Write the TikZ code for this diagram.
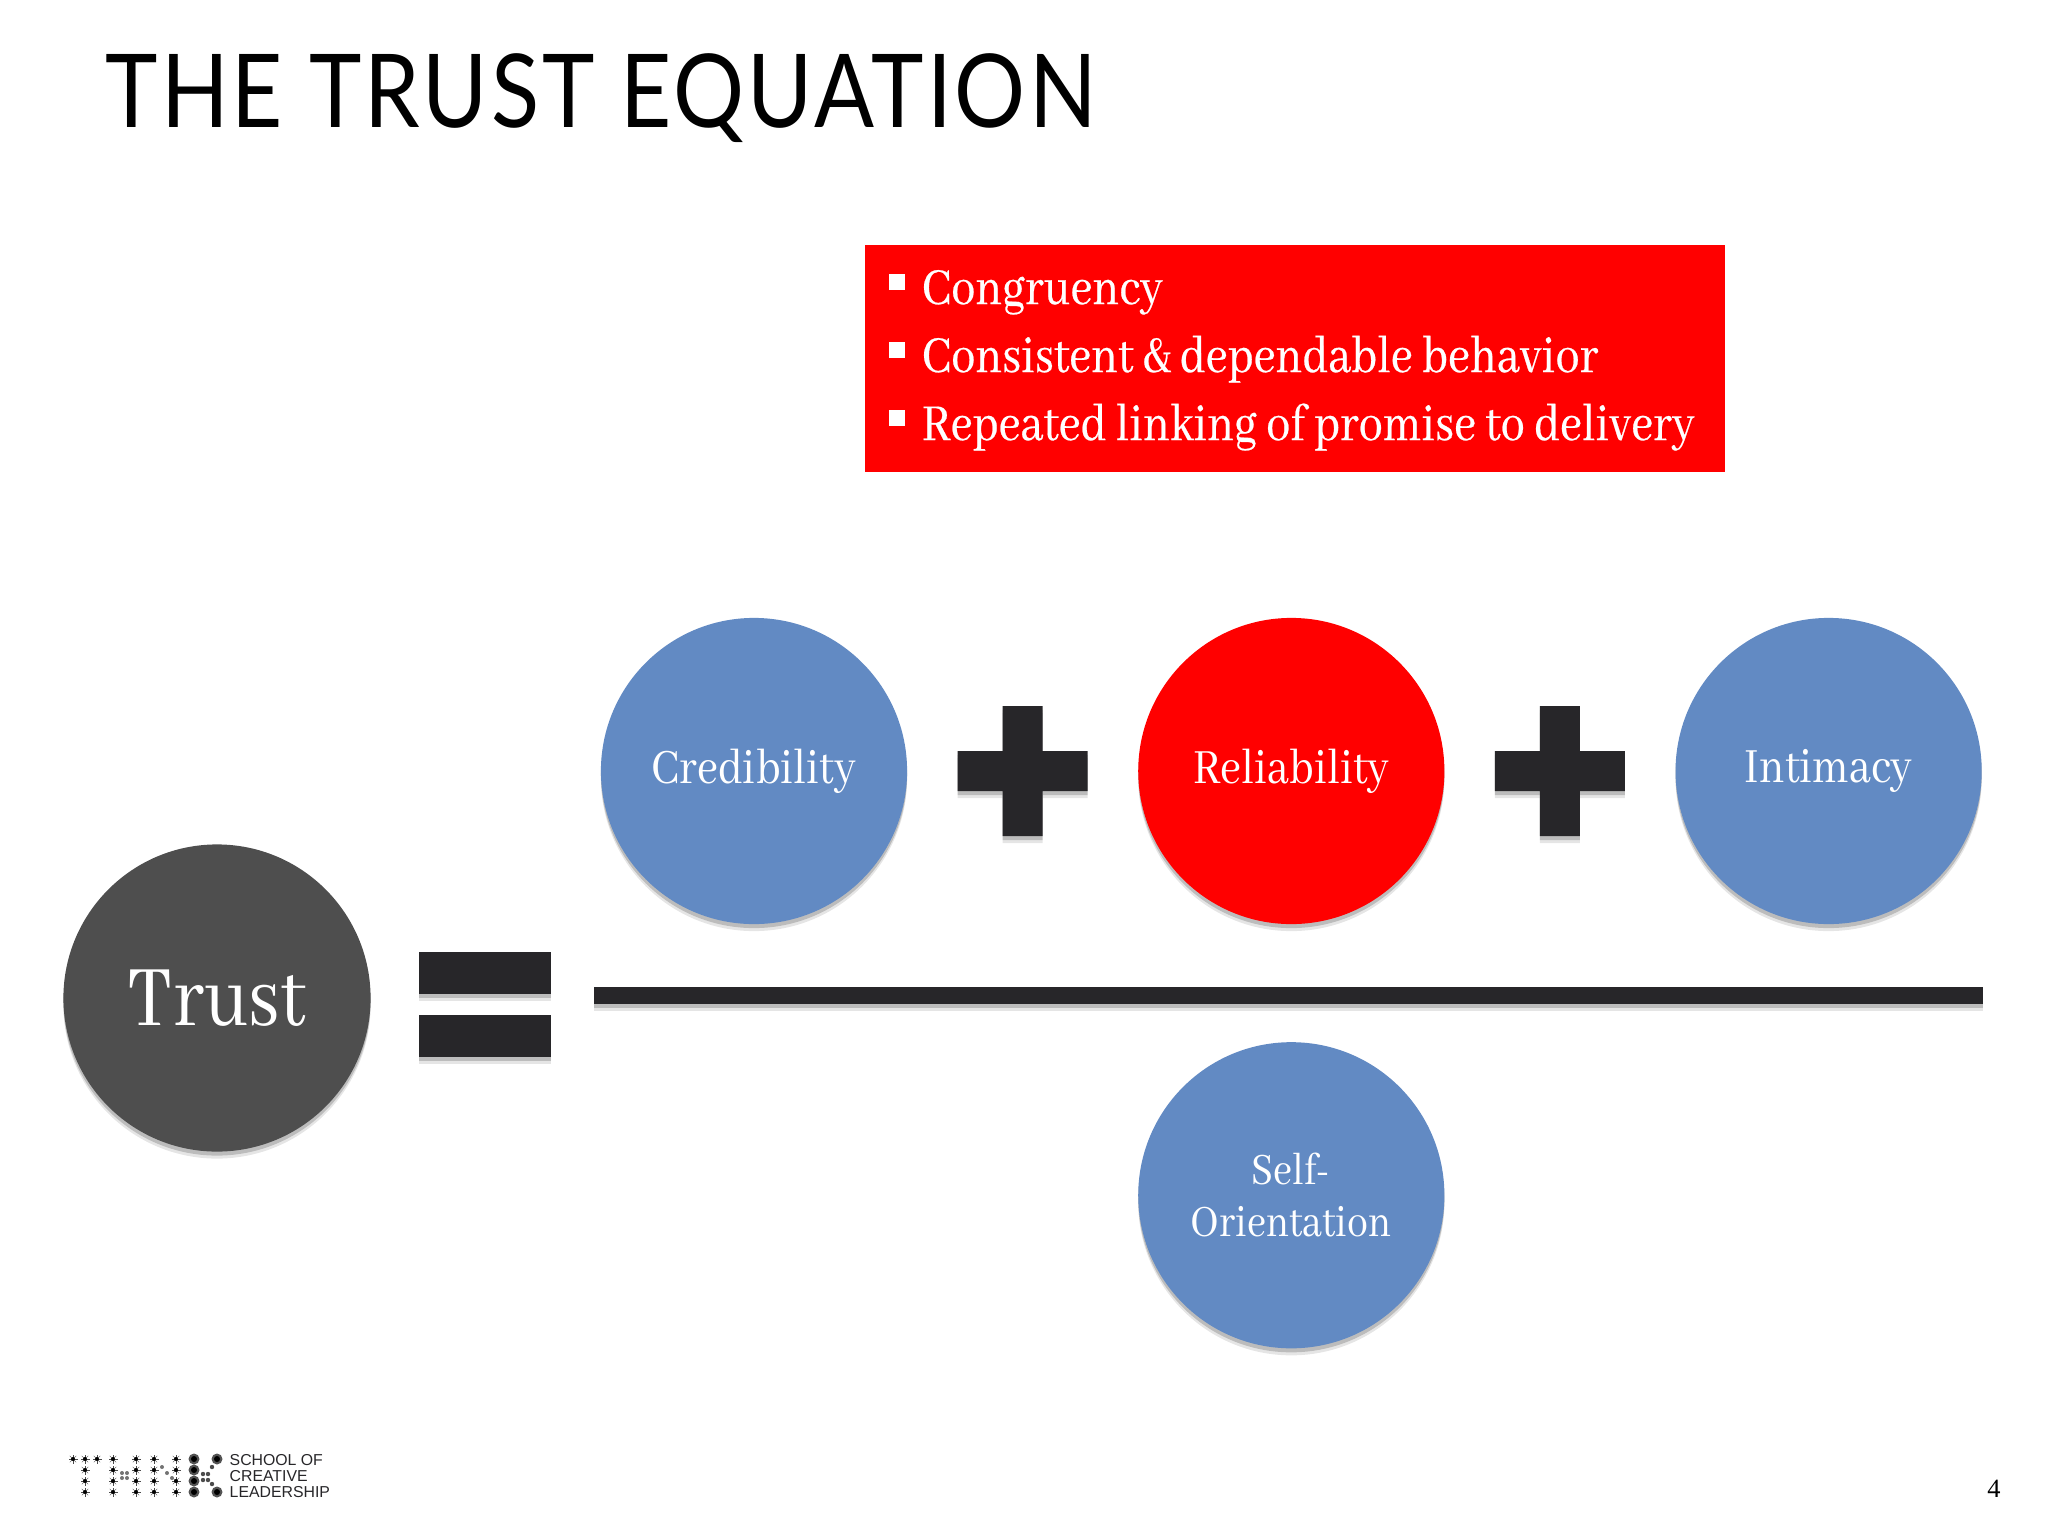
\documentclass[tikz,border=0pt]{standalone}
\usepackage{fontspec}
\setmainfont[FakeStretch=.85]{Abhaya Libre}
\newfontfamily\notefont[FakeStretch=.85,FakeBold=.4]{Abhaya Libre}
\newfontfamily\titlefont[LetterSpace=3,FakeStretch=.87]{Lato}
\newfontfamily\logofont{Liberation Sans}
\newfontfamily\pagefont{Liberation Serif}
\usepackage{tikz}
\usetikzlibrary{positioning,shadows,calc}
\definecolor{slate}{HTML}{628AC3}
\definecolor{ink}{HTML}{272629}
\definecolor{trustgray}{HTML}{4E4E4E}
\tikzset{
	softshadow/.style={
		drop shadow={shadow xshift=0cm,shadow yshift=-0.07cm,opacity=.1,fill=black},
		drop shadow={shadow xshift=0cm,shadow yshift=-0.04cm,opacity=.18,fill=black}},
	factor/.style={circle,minimum size=3.06cm,inner sep=0pt,align=center,text=white,font=\fontsize{15.4}{14.8}\selectfont,softshadow},
	bullet line/.style={anchor=base west,inner sep=0pt,text=white,font=\notefont\fontsize{16.2}{18}\selectfont},
	bar/.style={fill=ink,softshadow},
	plus sign/.pic={
		\path[bar] (-20,-65) -- (20,-65) -- (20,-20) -- (65,-20) -- (65,20) -- (20,20)
			-- (20,65) -- (-20,65) -- (-20,20) -- (-65,20) -- (-65,-20) -- (-20,-20) -- cycle;
	},
	tick mark/.pic={
		\foreach \a in {0,45,...,315}
			\draw[line width=.1pt,black!70] (0,0) -- (\a:4.5);
		\fill[black] (0,0) circle (2);
	},
	ring mark/.pic={
		\fill[black!35!gray] (0,0) circle (5.5);
		\fill[black] (0,0) circle (3);
	}
}
\begin{document}
\begin{tikzpicture}[x=0.01cm,y=-0.01cm,node distance=5.37cm,on grid]
	\useasboundingbox (0,0) rectangle (2048,1536);
	\node[anchor=base west,inner sep=0pt,font=\titlefont\fontsize{29}{32}\selectfont] (title) at (105,127) {THE TRUST EQUATION};
	% red box and its three lines
	\node[fill=red,minimum width=8.6cm,minimum height=2.27cm,anchor=north west,inner sep=0pt] (notes) at (864,244) {};
	\node[bullet line] (line_1) at (921,304) {Congruency};
	\node[bullet line] (line_2) at (921,372) {Consistent \&\ dependable behavior};
	\node[bullet line] (line_3) at (921,440) {Repeated linking of promise to delivery};
	\foreach \n in {1,2,3}
		\fill[white] ($(line_\n.base west)+(-32,-30)$) rectangle +(16,16);
	% the equation
	\node[factor,fill=slate] (credibility) at (754,771) {Credibility};
	\node[factor,fill=red] (reliability) [right=of credibility] {Reliability};
	\node[factor,fill=slate] (intimacy) [right=of reliability] {Intimacy};
	\node[factor,fill=slate,font=\fontsize{14}{14.8}\selectfont] (self) [below=4.24cm of reliability] {Self-\\Orientation};
	\node[factor,fill=trustgray,minimum size=3.07cm,font=\fontsize{27}{29}\selectfont] (trust) at (217,998) {Trust};
	\pic at ($(credibility)!.5!(reliability)$) {plus sign};
	\pic at ($(reliability)!.5!(intimacy)$) {plus sign};
	\path[bar] (419,952) rectangle (551,994);
	\path[bar] (419,1015) rectangle (551,1057);
	\path[bar] (594,987) rectangle (1983,1004);
	% logo
	\foreach \x in {73,97}
		\pic at (\x,1459) {tick mark};
	\foreach \x in {85,113,136,154,176}
		\foreach \y in {1459,1470,1481,1492}
			\pic at (\x,\y) {tick mark};
	\foreach \y in {1459,1470,1481,1492}
		\pic at (194,\y) {ring mark};
	\foreach \y in {1459,1492}
		\pic at (217,\y) {ring mark};
	\foreach \x/\y in {122/1473,127/1473,122/1478,127/1478,162/1467,167/1473,172/1478}
		\fill[black!55] (\x,\y) circle (2);
	\foreach \x/\y in {203/1474,208/1474,203/1480,208/1480,212/1467,212/1484}
		\fill[black!70] (\x,\y) circle (2.2);
	\node[anchor=north west,inner sep=0pt,align=left,text=ink,font=\logofont\fontsize{4.5}{4.5}\selectfont] (logo) at (229,1454) {SCHOOL OF\\CREATIVE\\LEADERSHIP};
	\node[anchor=base,inner sep=0pt,font=\pagefont\fontsize{7.5}{8}\selectfont] (page) at (1994,1497) {4};
\end{tikzpicture}
\end{document}
